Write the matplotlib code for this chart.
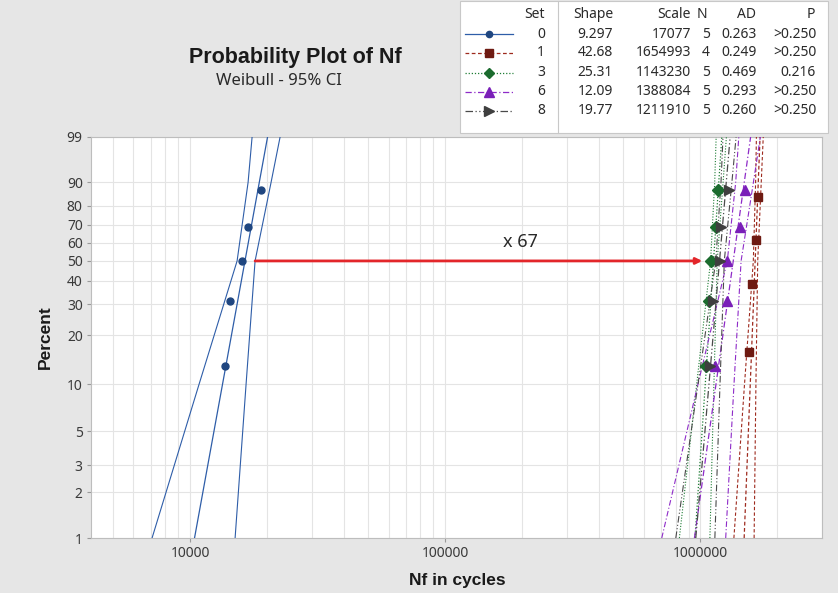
import numpy as np
import matplotlib
matplotlib.use("Agg")
import matplotlib.pyplot as plt
from matplotlib.lines import Line2D
from matplotlib.patches import Rectangle
from matplotlib.ticker import FixedLocator, NullFormatter

plt.rcParams["font.family"] = ["Noto Sans", "DejaVu Sans"]
BOLD_FONT = ["Liberation Sans", "DejaVu Sans"]

# Legend table values
set_ids = ["0", "1", "3", "6", "8"]
shapes = ["9.297", "42.68", "25.31", "12.09", "19.77"]
scales = [17077, 1654993, 1143230, 1388084, 1211910]
shape_vals = [9.297, 42.68, 25.31, 12.09, 19.77]
ns = ["5", "4", "5", "5", "5"]
ads = ["0.263", "0.249", "0.469", "0.293", "0.260"]
pvals = [">0.250", ">0.250", "0.216", ">0.250", ">0.250"]

# plotting positions (median ranks, percent)
pct_n5 = [12.96, 31.48, 50.0, 68.52, 87.04]
pct_n4 = [15.91, 38.64, 61.36, 84.09]

# failure cycles
nf_set0 = [13710, 14360, 16000, 16880, 18970]
nf_set1 = [1556000, 1600000, 1658000, 1689000]
nf_set3 = [1055600, 1084700, 1104400, 1155000, 1176500]
nf_set6 = [1145000, 1276000, 1276000, 1435000, 1502000]
nf_set8 = [1094000, 1124500, 1198000, 1209000, 1299000]

# 95% CI bounds at a few percents
ci_pct = [1, 10, 50, 90, 99]
ci_lo = [[7097, 10848, 15290, 16885, 17505],
         [1354500, 1490700, 1613900, 1647800, 1659600],
         [828000, 968000, 1097400, 1139000, 1154000],
         [706300, 979500, 1276200, 1376500, 1415500],
         [801700, 979500, 1150200, 1205700, 1227500]]
ci_hi = [[15017, 16580, 17983, 20777, 22538],
         [1625600, 1652300, 1679400, 1733600, 1765200],
         [1090700, 1130800, 1165000, 1228500, 1265800],
         [1258000, 1355700, 1445400, 1615400, 1719600],
         [1140700, 1194700, 1242100, 1330100, 1381500]]

fit_pct = np.array([1.0, 99.0])

arrow_from, arrow_to, arrow_pct = 17990, 1018000, 50

ytick_vals = [1, 2, 3, 5, 10, 20, 30, 40, 50, 60, 70, 80, 90, 99]
xtick_vals = [10000, 100000, 1000000]

# styles
colors = ["#2E5DA8", "#9E2A1E", "#1E7D35", "#8E2BC8", "#4A4A4A"]
mcolors = ["#1F4680", "#6E1A12", "#1B6B2E", "#7A1FB8", "#3F3F3F"]
markers = ["o", "s", "D", "^", ">"]
msizes = [5, 6, 6, 7, 7]
lstyles = ["-", (0, (3, 2)), (0, (1, 1.5)), (0, (5, 2, 1, 2)), (0, (6, 2, 1, 2, 1, 2))]
nf_all = [nf_set0, nf_set1, nf_set3, nf_set6, nf_set8]
pct_all = [pct_n5, pct_n4, pct_n5, pct_n5, pct_n5]

W, H = 838, 593
fig = plt.figure(figsize=(W / 100, H / 100), dpi=100)
fig.patch.set_facecolor("#E6E6E6")

def fx(px):
    return px / W

def fy(py):
    return 1 - py / H

ax = fig.add_axes([fx(91), fy(538), fx(822) - fx(91), fy(137) - fy(538)])
ax.set_facecolor("white")


def fwd(p):
    p = np.clip(np.asarray(p, dtype=float), 1e-6, 100 - 1e-6)
    return np.log(-np.log(1 - p / 100))


def inv(w):
    return 100 * (1 - np.exp(-np.exp(w)))


ax.set_xscale("log")
ax.set_yscale("function", functions=(fwd, inv))
ax.set_xlim(4090, 3.0e6)
ax.set_ylim(1, 99)

# grid
minor_x = [m * 10 ** e for e in range(3, 7) for m in range(1, 10)]
ax.xaxis.set_minor_locator(FixedLocator(minor_x))
ax.xaxis.set_minor_formatter(NullFormatter())
ax.xaxis.set_major_locator(FixedLocator(xtick_vals))
ax.set_xticklabels([str(v) for v in xtick_vals])
ax.yaxis.set_major_locator(FixedLocator(ytick_vals))
ax.yaxis.set_minor_locator(FixedLocator([]))
ax.set_yticklabels([str(v) for v in ytick_vals])
ax.grid(True, which="both", axis="x", color="#E4E4E4", lw=0.8)
ax.grid(True, which="major", axis="y", color="#E4E4E4", lw=0.8)
ax.set_axisbelow(True)

for s in ax.spines.values():
    s.set_color("#BDBDBD")
    s.set_linewidth(0.8)
ax.tick_params(axis="both", which="major", length=3, color="#9A9A9A",
               labelsize=10, labelcolor="#3A3A3A", pad=3)
ax.tick_params(axis="both", which="minor", length=0)

# fit lines, CI lines and points
for i in range(len(set_ids)):
    fit_x = scales[i] * (-np.log(1 - fit_pct / 100)) ** (1 / shape_vals[i])
    ax.plot(fit_x, fit_pct, color=colors[i], ls=lstyles[i], lw=0.9, zorder=3)
    ax.plot(ci_lo[i], ci_pct, color=colors[i], ls=lstyles[i], lw=0.8, zorder=3)
    ax.plot(ci_hi[i], ci_pct, color=colors[i], ls=lstyles[i], lw=0.8, zorder=3)
    ax.plot(nf_all[i], pct_all[i], ls="none", marker=markers[i], ms=msizes[i],
            color=mcolors[i], mec=mcolors[i], zorder=5)

# arrow and factor
ax.annotate("", xy=(arrow_to, arrow_pct), xytext=(arrow_from, arrow_pct),
            arrowprops=dict(arrowstyle="-|>", color="#E3262A", lw=2.0,
                            mutation_scale=9, shrinkA=0, shrinkB=0), zorder=6)
ax.text((520 - 91) / 731, (538 - 242) / 401, "x 67", transform=ax.transAxes,
        ha="center", va="center", fontsize=13, color="#2A2A2A")

# axis labels
fig.text(fx(457), fy(580), "Nf in cycles", ha="center", va="center",
         fontsize=12.5, fontweight="bold", family=BOLD_FONT, color="#1A1A1A")
fig.text(fx(45), fy(337), "Percent", ha="center", va="center", rotation=90,
         fontsize=12.5, fontweight="bold", family=BOLD_FONT, color="#1A1A1A")

# titles
fig.text(fx(295), fy(57), "Probability Plot of Nf", ha="center", va="center",
         fontsize=15.5, fontweight="bold", family=BOLD_FONT, color="#1A1A1A")
fig.text(fx(279), fy(81), "Weibull - 95% CI", ha="center", va="center",
         fontsize=12, color="#2A2A2A")

# legend table
fig.patches.append(Rectangle((fx(460), fy(133)), fx(828) - fx(460), fy(1) - fy(133),
                             transform=fig.transFigure, facecolor="white",
                             edgecolor="#C8C8C8", lw=0.8, zorder=1))
fig.lines.append(Line2D([fx(558), fx(558)], [fy(1), fy(133)], transform=fig.transFigure,
                        color="#C8C8C8", lw=0.8, zorder=2))

tfs = 10
tc = "#2A2A2A"
hdr_y = 15
row_y = [34, 53, 73, 92, 111]
fig.text(fx(545), fy(hdr_y), "Set", ha="right", va="center", fontsize=tfs, color=tc)
fig.text(fx(613), fy(hdr_y), "Shape", ha="right", va="center", fontsize=tfs, color=tc)
fig.text(fx(691), fy(hdr_y), "Scale", ha="right", va="center", fontsize=tfs, color=tc)
fig.text(fx(702), fy(hdr_y), "N", ha="center", va="center", fontsize=tfs, color=tc)
fig.text(fx(756), fy(hdr_y), "AD", ha="right", va="center", fontsize=tfs, color=tc)
fig.text(fx(815), fy(hdr_y), "P", ha="right", va="center", fontsize=tfs, color=tc)
for i, yy in enumerate(row_y):
    fig.lines.append(Line2D([fx(465), fx(513)], [fy(yy), fy(yy)], transform=fig.transFigure,
                            color=colors[i], ls=lstyles[i], lw=0.9, zorder=3))
    fig.lines.append(Line2D([fx(489)], [fy(yy)], transform=fig.transFigure, ls="none",
                            marker=markers[i], ms=msizes[i] - 0.5, color=mcolors[i], zorder=4))
    fig.text(fx(545), fy(yy), set_ids[i], ha="right", va="center", fontsize=tfs, color=tc)
    fig.text(fx(613), fy(yy), shapes[i], ha="right", va="center", fontsize=tfs, color=tc)
    fig.text(fx(691), fy(yy), str(scales[i]), ha="right", va="center", fontsize=tfs, color=tc)
    fig.text(fx(706), fy(yy), ns[i], ha="center", va="center", fontsize=tfs, color=tc)
    fig.text(fx(757), fy(yy), ads[i], ha="right", va="center", fontsize=tfs, color=tc)
    fig.text(fx(816), fy(yy), pvals[i], ha="right", va="center", fontsize=tfs, color=tc)

fig.savefig("out.png", dpi=100, facecolor=fig.get_facecolor())
